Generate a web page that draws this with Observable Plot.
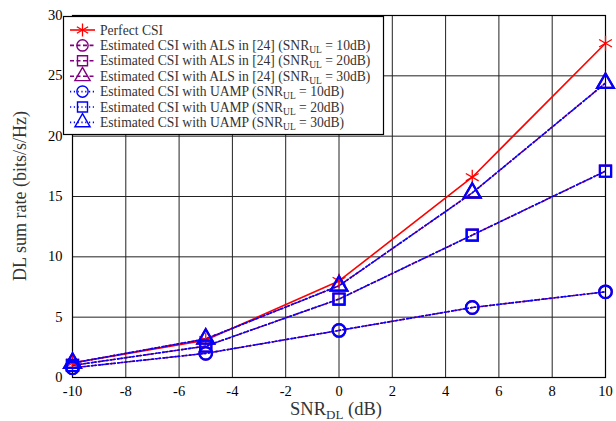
<!DOCTYPE html>
<html><head><meta charset="utf-8">
<script src="https://cdn.jsdelivr.net/npm/d3@7"></script>
<script src="https://cdn.jsdelivr.net/npm/@observablehq/plot@0.6"></script>
<style>body{margin:0;background:#fff;} #chart svg, #chart svg text{font-family:"Liberation Serif",serif !important;}</style>
</head><body><div id="chart"></div>
<script>
const snr = [-10, -5, 0, 5, 10];
const perfect = [1.2, 3.1, 8.0, 16.6, 27.7];
const als10 = [0.8, 2.0, 3.9, 5.8, 7.1];
const als20 = [1.0, 2.6, 6.5, 11.8, 17.1];
const als30 = [1.2, 3.2, 7.6, 15.3, 24.4];
const uamp10 = [0.8, 2.0, 3.9, 5.8, 7.1];
const uamp20 = [1.0, 2.6, 6.5, 11.8, 17.1];
const uamp30 = [1.2, 3.2, 7.6, 15.3, 24.4];
const xTicks = [-10, -8, -6, -4, -2, 0, 2, 4, 6, 8, 10];
const yTicks = [0, 5, 10, 15, 20, 25, 30];

const series = [
  {name: "Perfect CSI", sub: null, vals: perfect, color: "red", dash: null, symbol: "asterisk"},
  {name: "Estimated CSI with ALS in [24] (SNR", sub: "10dB", vals: als10, color: "purple", dash: "4,2.5", symbol: "circle"},
  {name: "Estimated CSI with ALS in [24] (SNR", sub: "20dB", vals: als20, color: "purple", dash: "4,2.5", symbol: "square"},
  {name: "Estimated CSI with ALS in [24] (SNR", sub: "30dB", vals: als30, color: "purple", dash: "4,2.5", symbol: "triangle"},
  {name: "Estimated CSI with UAMP (SNR", sub: "10dB", vals: uamp10, color: "blue", dash: "1.2,2.6", symbol: "circle"},
  {name: "Estimated CSI with UAMP (SNR", sub: "20dB", vals: uamp20, color: "blue", dash: "1.2,2.6", symbol: "square"},
  {name: "Estimated CSI with UAMP (SNR", sub: "30dB", vals: uamp30, color: "blue", dash: "1.2,2.6", symbol: "triangle"}
];

const marks = [
  Plot.gridX(xTicks, {stroke: "#222", strokeOpacity: 1, strokeWidth: 1}),
  Plot.gridY(yTicks, {stroke: "#222", strokeOpacity: 1, strokeWidth: 1}),
  Plot.frame({stroke: "#000", strokeWidth: 1.2}),
  Plot.axisX(xTicks, {tickSize: 0, tickPadding: 8, fontSize: 14.5, label: null, tickFormat: d => String(d)}),
  Plot.axisY(yTicks, {tickSize: 0, tickPadding: 10, fontSize: 14.5, label: null})
];
for (const s of series) {
  const data = snr.map((x, i) => ({x, y: s.vals[i]}));
  marks.push(Plot.line(data, {x: "x", y: "y", stroke: s.color, strokeWidth: 1.6, strokeDasharray: s.dash}));
}
for (const s of series) {
  const data = snr.map((x, i) => ({x, y: s.vals[i]}));
  const r = s.symbol === "asterisk" ? 7 : (s.symbol === "triangle" ? 6.2 : 6.3);
  marks.push(Plot.dot(data, {x: "x", y: "y", symbol: s.symbol, r, stroke: s.color, strokeWidth: s.symbol === "asterisk" ? 1.3 : 2.2, fill: "none"}));
}

const chart = Plot.plot({
  width: 616, height: 421,
  marginLeft: 72, marginRight: 11, marginTop: 15, marginBottom: 44,
  x: {domain: [-10, 10]},
  y: {domain: [0, 30]},
  style: "font-family: 'Liberation Serif', serif; color: #000; background: #fff;",
  marks
});
document.getElementById("chart").appendChild(chart);

const svg = d3.select(chart);
const FF = "Liberation Serif";
// Axis labels
const xl = svg.append("text").attr("x", 336).attr("y", 415).attr("text-anchor", "middle")
  .attr("font-family", FF).attr("font-size", 18.5).attr("fill", "#333");
xl.append("tspan").text("SNR");
xl.append("tspan").attr("font-size", 13).attr("dy", 4).text("DL");
xl.append("tspan").attr("dy", -4).text(" (dB)");
svg.append("text").attr("transform", "translate(26,196) rotate(-90)").attr("text-anchor", "middle")
  .attr("font-family", FF).attr("font-size", 18).attr("fill", "#333").text("DL sum rate (bits/s/Hz)");

// Legend
const lg = svg.append("g");
lg.append("rect").attr("x", 63.5).attr("y", 16.5).attr("width", 320).attr("height", 118)
  .attr("fill", "#fff").attr("stroke", "#000").attr("stroke-width", 1.2);
series.forEach((s, i) => {
  const y = 30 + i * 15.4;
  lg.append("line").attr("x1", 70).attr("x2", 95).attr("y1", y).attr("y2", y)
    .attr("stroke", s.color).attr("stroke-width", 1.6).attr("stroke-dasharray", s.dash);
  const sym = {asterisk: d3.symbolAsterisk, circle: d3.symbolCircle, square: d3.symbolSquare, triangle: d3.symbolTriangle}[s.symbol];
  const size = s.symbol === "asterisk" ? 120 : 100;
  lg.append("path").attr("d", d3.symbol(sym, size)()).attr("transform", `translate(82.5,${y})`)
    .attr("fill", "none").attr("stroke", s.color).attr("stroke-width", s.symbol === "asterisk" ? 1.3 : 1.4);
  const t = lg.append("text").attr("x", 100).attr("y", y + 4.5).attr("text-anchor", "start")
    .attr("font-family", FF).attr("font-size", 13.6).attr("fill", "#333");
  t.append("tspan").text(s.name);
  if (s.sub) {
    t.append("tspan").attr("font-size", 9.5).attr("dy", 3).text("UL");
    t.append("tspan").attr("dy", -3).text(" = " + s.sub + ")");
  }
});
</script></body></html>
